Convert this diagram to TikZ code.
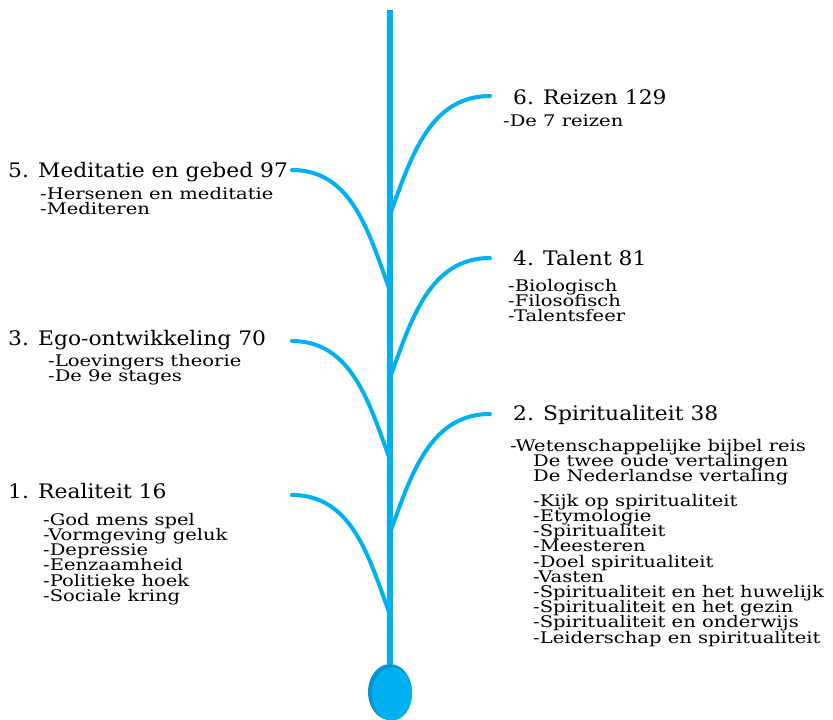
\documentclass[tikz,border=0pt]{standalone}
\usepackage{fontspec}
\setmainfont{DejaVu Serif}
\newfontfamily\titlefont[FakeStretch=1.09]{DejaVu Serif}
\newfontfamily\itemfont[FakeStretch=1.22]{DejaVu Serif}
\usetikzlibrary{shapes.geometric}
\definecolor{stemblue}{HTML}{00B0F0}
\definecolor{eggshade}{HTML}{0A93CF}

\begin{document}
\begin{tikzpicture}
[x=1pt, y=-1pt, every node/.style={inner sep=0pt},
 title/.style={anchor=base west, font=\titlefont\fontsize{20}{24}\selectfont},
 items/.style={anchor=north west, align=left, font={\itemfont\fontsize{16}{15.2}\selectfont\lineskiplimit=-8pt}},
 branch/.style={line width=4pt, color=stemblue, line cap=round}]
\useasboundingbox (0,0) rectangle (833,720);
% egg and stem
\node (egg) [ellipse, fill=eggshade, minimum width=44pt, minimum height=56pt] at (390,692) {};
\fill [stemblue] ([xshift=2pt, yshift=-2pt]egg.center) ellipse (20pt and 26.5pt);
\draw [line width=5.5pt, color=stemblue] (390,10) -- (egg.north);
% points on the stem
\coordinate (s6) at (391,212);
\coordinate (s5) at (389,288);
\coordinate (s4) at (391,375);
\coordinate (s3) at (389,457);
\coordinate (s2) at (391,530);
\coordinate (s1) at (389,612);
% free ends of the branches
\coordinate (b6) at (490,96);
\coordinate (b5) at (292,170);
\coordinate (b4) at (490,258);
\coordinate (b3) at (292,341);
\coordinate (b2) at (490,414);
\coordinate (b1) at (292,495);
% titles
\node (t6) [title] at (513,104) {6. Reizen 129};
\node (t5) [title] at (8,177) {5. Meditatie en gebed 97};
\node (t4) [title] at (513,265) {4. Talent 81};
\node (t3) [title] at (8,345) {3. Ego-ontwikkeling 70};
\node (t2) [title] at (513,420) {2. Spiritualiteit 38};
\node (t1) [title] at (8,498) {1. Realiteit 16};
% items
\node (d6) [items] at (503,115) {-De 7 reizen};
\node (d5) [items] at (40,187) {-Hersenen en meditatie\\-Mediteren};
\node (d4) [items] at (508,279) {-Biologisch\\-Filosofisch\\-Talentsfeer};
\node (d3) [items] at (48,354) {-Loevingers theorie\\-De 9e stages};
\node (d2) [items] at (510,439) {-Wetenschappelijke bijbel reis\\\hspace*{23pt}De twee oude vertalingen\\\hspace*{23pt}De Nederlandse vertaling};
\node (l2) [items] at (533,494) {-Kijk op spiritualiteit\\-Etymologie\\-Spiritualiteit\\-Meesteren\\-Doel spiritualiteit\\-Vasten\\-Spiritualiteit en het huwelijk\\-Spiritualiteit en het gezin\\-Spiritualiteit en onderwijs\\-Leiderschap en spiritualiteit};
\node (d1) [items] at (43,513) {-God mens spel\\-Vormgeving geluk\\-Depressie\\-Eenzaamheid\\-Politieke hoek\\-Sociale kring};
% branches
\draw [branch] (s6) to [out=70, in=180] (b6);
\draw [branch] (b5) to [out=0, in=110] (s5);
\draw [branch] (s4) to [out=70, in=180] (b4);
\draw [branch] (b3) to [out=0, in=110] (s3);
\draw [branch] (s2) to [out=70, in=180] (b2);
\draw [branch] (b1) to [out=0, in=110] (s1);
\end{tikzpicture}
\end{document}
